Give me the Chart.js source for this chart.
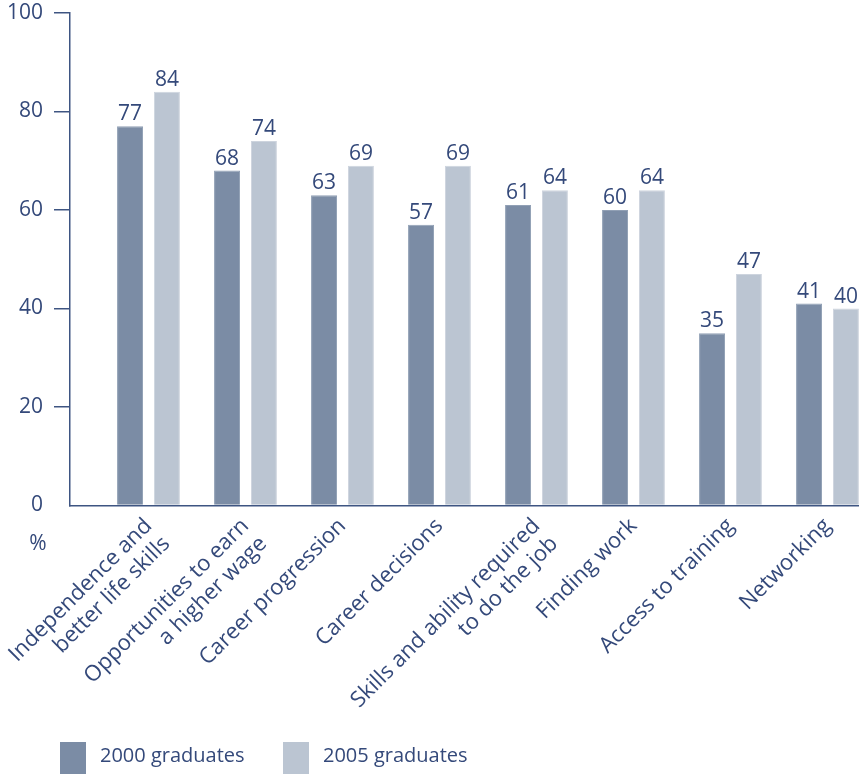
<!DOCTYPE html>
<html>
<head>
<meta charset="utf-8">
<script src="https://cdn.jsdelivr.net/npm/chart.js@4"></script>
<style>
  html, body { margin: 0; padding: 0; background: #fff; overflow: hidden; }
  .wrap { position: relative; width: 859px; height: 774px; }
  #legend { position: absolute; left: 60px; top: 742px; margin: 0; padding: 0; list-style: none; display: flex; }
  #legend li { display: flex; align-items: flex-start; width: 223px; font: 20px "Open Sans", "Noto Sans", sans-serif; line-height: 26px; color: #34497a; }
  #legend .box { width: 26px; height: 32px; margin-right: 14px; }
</style>
</head>
<body>
<div class="wrap">
  <canvas id="myChart" width="859" height="774"></canvas>
  <ul id="legend"></ul>
</div>
<script>
const categories = [
  ['Independence and', 'better life skills'],
  ['Opportunities to earn', 'a higher wage'],
  'Career progression',
  'Career decisions',
  ['Skills and ability required', 'to do the job'],
  'Finding work',
  'Access to training',
  'Networking'
];
const grads2000 = [77, 68, 63, 57, 61, 60, 35, 41];
const grads2005 = [84, 74, 69, 69, 64, 64, 47, 40];
const yTicks = [0, 20, 40, 60, 80, 100];

const textColor = '#34497a';
const axisColor = '#3e5582';
const fontFamily = '"Open Sans", "Noto Sans", sans-serif';

const valueLabels = {
  id: 'valueLabels',
  afterDatasetsDraw(chart) {
    const ctx = chart.ctx;
    ctx.save();
    ctx.fillStyle = textColor;
    ctx.font = '21px ' + fontFamily;
    ctx.textAlign = 'center';
    ctx.textBaseline = 'alphabetic';
    chart.data.datasets.forEach((ds, di) => {
      chart.getDatasetMeta(di).data.forEach((bar, i) => {
        ctx.fillText(ds.data[i].y, bar.x, bar.y - 6);
      });
    });
    // unit label under the y axis
    const area = chart.chartArea;
    ctx.fillText('%', area.left - 32, area.bottom + 44);
    ctx.restore();
  }
};

// legend built from the datasets, laid out in html below the canvas
const htmlLegend = {
  id: 'htmlLegend',
  afterUpdate(chart) {
    const ul = document.getElementById('legend');
    ul.innerHTML = '';
    chart.data.datasets.forEach(ds => {
      const li = document.createElement('li');
      const box = document.createElement('span');
      box.className = 'box';
      box.style.background = ds.backgroundColor;
      const txt = document.createElement('span');
      txt.textContent = ds.label;
      li.appendChild(box);
      li.appendChild(txt);
      ul.appendChild(li);
    });
  }
};

const ctx = document.getElementById('myChart');

new Chart(ctx, {
  type: 'bar',
  data: {
    datasets: [{
      label: '2000 graduates',
      data: grads2000.map((v, i) => ({x: i, y: v})),
      backgroundColor: '#7b8ca5',
      borderColor: '#91a0b5',
      borderWidth: 1
    }, {
      label: '2005 graduates',
      data: grads2005.map((v, i) => ({x: i, y: v})),
      backgroundColor: '#bbc5d2',
      borderColor: '#cdd4de',
      borderWidth: 1
    }]
  },
  options: {
    responsive: false,
    animation: false,
    categoryPercentage: 0.76,
    barPercentage: 0.705,
    layout: { autoPadding: false, padding: { top: 13, left: 0, right: 0, bottom: 0 } },
    plugins: {
      tooltip: { enabled: false },
      legend: { display: false }
    },
    scales: {
      x: {
        type: 'linear',
        offset: false,
        min: -0.809,
        max: 7.325,
        grid: { display: false, drawTicks: false },
        border: { display: true, color: axisColor, width: 1.5 },
        afterBuildTicks(scale) {
          scale.ticks = categories.map((c, i) => ({ value: i }));
        },
        afterFit(scale) {
          scale.height = 268.5;
          scale.paddingLeft = 0;
          scale.paddingRight = 0;
        },
        ticks: {
          autoSkip: false,
          minRotation: 45,
          maxRotation: 45,
          padding: 8,
          color: textColor,
          font: { family: fontFamily, size: 22, lineHeight: 1.15 },
          callback: (value) => categories[value]
        }
      },
      y: {
        min: 0,
        max: 100,
        afterBuildTicks(scale) {
          scale.ticks = yTicks.map(v => ({ value: v }));
        },
        afterFit(scale) {
          scale.width = 70;
          scale.paddingTop = 0;
          scale.paddingBottom = 0;
        },
        grid: {
          drawOnChartArea: false,
          drawTicks: true,
          tickLength: 16,
          lineWidth: 1.5,
          color: (c) => (c.tick && c.tick.value === 0) ? 'rgba(0,0,0,0)' : axisColor
        },
        border: { display: true, color: axisColor, width: 1.5 },
        ticks: {
          padding: 11,
          color: textColor,
          font: { family: fontFamily, size: 21 }
        }
      }
    }
  },
  plugins: [valueLabels, htmlLegend]
});
</script>
</body>
</html>
